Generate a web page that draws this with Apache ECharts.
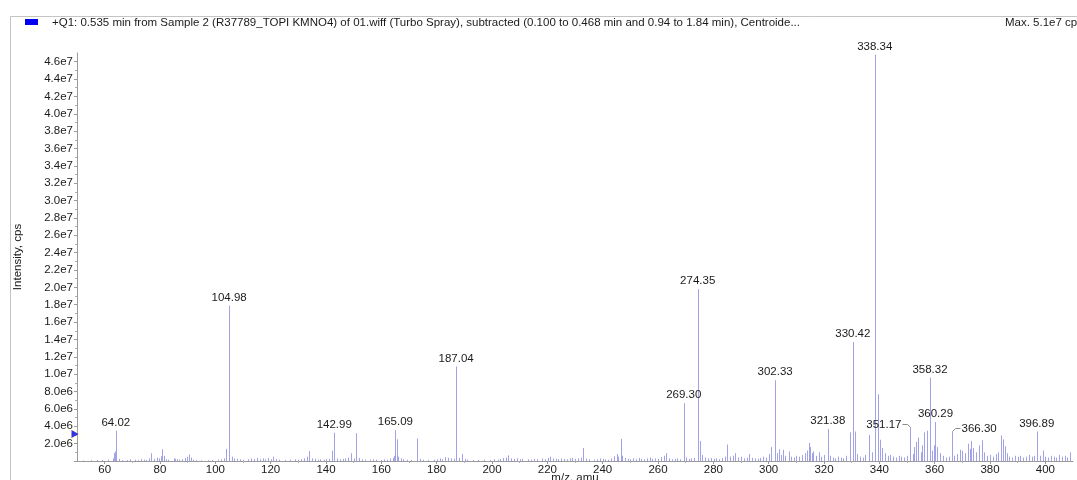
<!DOCTYPE html>
<html>
<head>
<meta charset="utf-8">
<script src="https://cdn.jsdelivr.net/npm/echarts@6/dist/echarts.min.js"></script>
<style>
  html, body { margin: 0; padding: 0; background: #ffffff; }
  #chart { width: 1077px; height: 480px; }
</style>
</head>
<body>
<div id="chart"></div>
<script>
// Header texts
const titleText = '+Q1: 0.535 min from Sample 2 (R37789_TOPI KMNO4) of 01.wiff (Turbo Spray), subtracted (0.100 to 0.468 min and 0.94 to 1.84 min), Centroide...';
const maxText = 'Max. 5.1e7 cps';
const xName = 'm/z, amu';
const yName = 'Intensity, cps';

// Axis ticks (x in amu, y in units of 1e6 cps)
const xTicks = [60, 80, 100, 120, 140, 160, 180, 200, 220, 240, 260, 280, 300, 320, 340, 360, 380, 400];
const xMinorTicks = [70, 90, 110, 130, 150, 170, 190, 210, 230, 250, 270, 290, 310, 330, 350, 370, 390];
const yTicks = [0, 2, 4, 6, 8, 10, 12, 14, 16, 18, 20, 22, 24, 26, 28, 30, 32, 34, 36, 38, 40, 42, 44, 46];
const yMinorTicks = [1, 3, 5, 7, 9, 11, 13, 15, 17, 19, 21, 23, 25, 27, 29, 31, 33, 35, 37, 39, 41, 43, 45];

// Centroided spectrum: [m/z, intensity in 1e6 cps]
const spectrum = [
  [52.1,0.06],[55.0,0.08],[57.1,0.10],[59.0,0.12],[61.1,0.15],[62.9,0.30],[63.4,0.90],[63.7,1.10],[64.02,3.50],
  [65.0,0.25],[66.1,0.10],[68.0,0.12],[69.1,0.18],[70.9,0.15],[72.2,0.10],[73.0,0.20],[74.1,0.15],[75.0,0.12],
  [76.1,0.30],[76.9,0.90],[77.8,0.25],[78.9,0.40],[79.6,0.30],[80.2,0.55],[80.9,1.35],[81.5,0.60],[82.1,0.20],
  [83.0,0.15],[84.9,0.30],[85.5,0.25],[86.1,0.20],[87.0,0.15],[88.1,0.20],[89.2,0.35],[89.9,0.50],[90.6,0.75],
  [91.1,0.40],[92.0,0.15],[93.1,0.10],[95.0,0.08],[97.2,0.10],[98.9,0.12],[100.9,0.15],[102.0,0.20],[103.1,0.30],
  [103.9,1.40],[104.98,17.9],[105.9,0.50],[106.8,0.30],[107.9,0.25],[109.0,0.20],[110.1,0.15],[111.9,0.20],
  [113.0,0.30],[114.0,0.25],[115.1,0.35],[116.0,0.20],[117.1,0.30],[118.0,0.20],[119.1,0.35],[120.2,0.20],
  [121.0,0.50],[122.0,0.25],[123.1,0.15],[125.0,0.10],[127.1,0.15],[128.9,0.20],[130.0,0.15],[131.1,0.20],
  [132.1,0.30],[133.0,0.50],[133.9,1.15],[135.0,0.30],[136.1,0.25],[137.0,0.15],[138.0,0.20],[139.1,0.15],
  [140.1,0.20],[141.0,0.25],[142.3,1.20],[142.99,3.25],[144.0,0.30],[145.0,0.20],[146.1,0.25],[147.0,0.30],
  [148.1,0.40],[149.0,0.90],[150.1,0.30],[151.0,3.20],[152.0,0.35],[153.0,0.20],[154.1,0.15],[155.9,0.15],
  [157.0,0.20],[158.1,0.15],[160.0,0.12],[161.1,0.20],[162.1,0.15],[163.0,0.30],[164.1,0.35],[164.6,0.60],
  [165.09,3.55],[165.6,2.50],[166.2,0.50],[167.1,0.30],[168.0,0.20],[169.1,0.15],[170.9,0.12],[173.0,2.60],
  [173.9,0.25],[175.1,0.15],[177.0,0.10],[178.9,0.15],[180.1,0.20],[181.1,0.30],[182.0,0.20],[183.1,0.45],
  [184.0,0.35],[185.1,0.30],[186.1,0.25],[187.04,10.9],[188.0,0.35],[189.0,0.80],[190.1,0.25],[191.0,0.15],
  [193.0,0.10],[195.1,0.12],[197.0,0.15],[199.1,0.10],[200.9,0.20],[202.0,0.15],[203.0,0.25],[204.1,0.35],
  [205.0,0.40],[205.9,0.65],[207.0,0.30],[208.1,0.25],[209.0,0.30],[210.1,0.20],[211.0,0.25],[212.9,0.20],
  [214.1,0.15],[215.0,0.25],[216.1,0.20],[217.9,0.30],[219.0,0.20],[220.1,0.35],[221.0,0.50],[222.0,0.30],
  [223.1,0.25],[224.0,0.20],[225.1,0.30],[226.0,0.25],[227.0,0.20],[228.1,0.30],[229.0,0.35],[230.1,0.25],
  [231.0,0.30],[232.1,0.40],[233.0,1.50],[234.0,0.30],[235.1,0.20],[236.9,0.15],[238.0,0.20],[239.1,0.30],
  [240.1,0.25],[241.0,0.20],[242.0,0.15],[243.1,0.30],[244.0,0.55],[245.0,0.80],[245.6,0.50],[246.5,2.55],
  [247.1,0.60],[248.0,0.35],[249.1,0.25],[250.0,0.20],[251.0,0.30],[252.1,0.20],[253.0,0.35],[254.0,0.25],
  [255.1,0.20],[256.0,0.30],[257.1,0.40],[258.0,0.25],[259.0,0.30],[260.1,0.25],[261.0,0.45],[262.0,0.60],
  [262.9,0.90],[264.0,0.30],[265.0,0.20],[266.1,0.25],[267.0,0.30],[268.0,0.20],[269.30,6.65],[270.2,0.40],
  [271.1,0.25],[272.0,0.30],[273.1,0.35],[274.35,19.8],[275.3,2.30],[276.0,0.70],[277.1,0.40],[278.0,0.30],
  [279.0,0.35],[280.1,0.25],[281.0,0.30],[282.1,0.20],[283.0,0.35],[284.1,0.50],[285.0,1.90],[286.0,0.50],
  [287.1,0.60],[288.0,0.90],[289.0,0.40],[290.1,0.50],[291.0,0.30],[292.1,0.40],[293.0,0.80],[294.0,0.35],
  [295.0,0.30],[296.1,0.25],[297.0,0.35],[298.0,0.50],[299.0,0.40],[300.1,0.80],[301.0,1.60],[302.33,9.30],
  [303.0,0.90],[303.6,1.35],[304.3,0.70],[305.0,1.30],[306.0,0.60],[307.5,1.10],[308.1,0.50],[309.0,0.40],
  [310.0,0.60],[311.1,0.50],[312.0,0.70],[313.0,0.90],[313.8,1.20],[314.5,2.10],[315.0,1.60],[315.6,0.90],
  [316.2,1.10],[317.0,0.60],[318.1,1.00],[319.0,0.50],[320.1,0.70],[321.38,3.70],[322.0,0.60],[323.1,0.40],
  [324.0,0.30],[325.0,0.50],[326.1,0.40],[327.0,0.30],[328.0,0.60],[329.3,3.30],[330.42,13.7],[331.3,3.40],
  [332.0,0.80],[333.1,0.50],[334.0,0.40],[335.0,0.70],[336.3,3.00],[337.2,1.00],[338.34,46.8],[339.4,7.70],
  [340.2,2.45],[341.0,1.50],[342.0,0.90],[343.1,0.60],[344.0,0.70],[345.0,0.50],[346.1,0.40],[347.0,0.60],
  [348.0,0.50],[349.0,0.40],[350.1,0.60],[351.17,3.90],[352.0,0.80],[352.6,1.60],[353.2,2.20],[354.0,2.70],
  [355.0,1.00],[355.6,1.80],[356.2,3.30],[357.1,3.50],[358.32,9.60],[359.0,1.20],[359.6,1.80],[360.29,4.50],
  [361.0,1.60],[361.9,0.90],[363.0,0.60],[364.0,0.40],[365.1,0.50],[366.30,3.40],[367.0,0.60],[368.0,0.80],
  [369.0,1.30],[370.0,1.20],[371.1,0.90],[372.0,2.00],[372.6,1.40],[373.3,2.30],[374.0,1.50],[375.0,1.00],
  [376.0,1.80],[377.1,2.40],[378.0,1.00],[379.0,0.60],[380.1,0.70],[381.0,0.50],[382.0,0.80],[383.0,1.00],
  [384.0,2.95],[384.6,2.50],[385.3,1.70],[386.0,0.90],[387.0,0.50],[388.1,0.40],[389.0,0.60],[390.0,0.50],
  [391.0,0.60],[392.1,0.40],[393.0,0.50],[394.0,0.70],[395.0,0.50],[396.0,0.60],[396.89,3.40],[398.0,0.60],
  [399.0,1.20],[400.0,0.50],[401.0,0.40],[402.0,0.60],[403.0,0.50],[404.0,0.40],[405.0,0.70],[406.0,0.50],
  [407.0,0.60],[408.0,0.40],[409.0,1.00]
];

// Peaks annotated with their m/z
const labeledMz = [64.02, 104.98, 142.99, 165.09, 187.04, 269.30, 274.35, 302.33, 321.38,
                   330.42, 338.34, 351.17, 358.32, 360.29, 366.30, 396.89];

// Threshold marker level on the intensity axis (1e6 cps)
const thresholdLevel = 3.1;

// Labels drawn beside their peak with a leader line
const leaderSide = { '351.17': 'left', '366.30': 'right' };

const FONT = '"Liberation Sans", Arial, sans-serif';
const FS = 11.5;
const peakColor = '#a2a2e8';
const textColor = '#1a1a1a';

const labelData = labeledMz.map(m => {
  const hit = spectrum.find(p => Math.abs(p[0] - m) < 1e-6);
  return [m, hit ? hit[1] : 0];
});

function fmtIntensity(v) {
  const cps = v * 1e6;
  if (cps === 0) return '';
  const e = Math.floor(Math.log10(cps) + 1e-9);
  return (cps / Math.pow(10, e)).toFixed(1) + 'e' + e;
}

const chart = echarts.init(document.getElementById('chart'), null, { renderer: 'canvas' });

const option = {
  animation: false,
  backgroundColor: '#ffffff',
  textStyle: { fontFamily: FONT },
  grid: { left: 77, right: 4, top: 53, bottom: 19, containLabel: false, outerBoundsMode: 'none' },
  xAxis: [{
    type: 'value', min: 50, max: 410,
    name: xName, nameLocation: 'middle', nameGap: 11, nameMoveOverlap: false,
    nameTextStyle: { fontSize: FS, color: textColor, fontFamily: FONT },
    axisLine: { show: true, lineStyle: { color: '#9a9a9a', width: 1 } },
    axisTick: { show: true, length: 3, lineStyle: { color: '#9a9a9a' }, customValues: xTicks },
    axisLabel: { fontSize: FS, color: textColor, margin: 3, fontFamily: FONT, customValues: xTicks },
    splitLine: { show: false }
  }, {
    type: 'value', min: 50, max: 410, position: 'bottom',
    axisLine: { show: false },
    axisTick: { show: true, length: 2, lineStyle: { color: '#b0b0b0' }, customValues: xMinorTicks },
    axisLabel: { show: false, customValues: xMinorTicks },
    splitLine: { show: false }
  }],
  yAxis: [{
    type: 'value', min: 0, max: 47,
    name: yName, nameLocation: 'middle', nameGap: 53, nameRotate: 90, nameMoveOverlap: false,
    nameTextStyle: { fontSize: FS, color: textColor, fontFamily: FONT },
    axisLine: { show: true, lineStyle: { color: '#9a9a9a', width: 1 } },
    axisTick: { show: true, length: 3, lineStyle: { color: '#9a9a9a' }, customValues: yTicks },
    axisLabel: { fontSize: FS, color: textColor, margin: 4, fontFamily: FONT, customValues: yTicks,
                 formatter: fmtIntensity },
    splitLine: { show: false }
  }, {
    type: 'value', min: 0, max: 47, position: 'left',
    axisLine: { show: false },
    axisTick: { show: true, length: 2, lineStyle: { color: '#b0b0b0' }, customValues: yMinorTicks },
    axisLabel: { show: false, customValues: yMinorTicks },
    splitLine: { show: false }
  }],
  graphic: [
    { type: 'polyline', silent: true, z: 100,
      shape: { points: [[10.5, 480], [10.5, 16.5], [1077, 16.5]] },
      style: { stroke: '#c4c4c4', lineWidth: 1, fill: null } },
    { type: 'rect', silent: true, z: 100,
      shape: { x: 25, y: 19, width: 13, height: 6 },
      style: { fill: '#0000ee' } },
    { type: 'text', silent: true, z: 100, x: 52, y: 23,
      style: { text: titleText, font: FS + 'px ' + FONT, fill: textColor, textVerticalAlign: 'middle' } },
    { type: 'text', silent: true, z: 100, x: 1005, y: 23,
      style: { text: maxText, font: FS + 'px ' + FONT, fill: textColor, textVerticalAlign: 'middle' } }
  ],
  series: [
    {
      type: 'custom',
      name: 'spectrum',
      coordinateSystem: 'cartesian2d',
      xAxisIndex: 0, yAxisIndex: 0,
      clip: true,
      data: spectrum,
      encode: { x: 0, y: 1 },
      renderItem: function (params, api) {
        const base = api.coord([api.value(0), 0]);
        const top = api.coord([api.value(0), api.value(1)]);
        const x = Math.round(base[0]) + 0.5;
        return {
          type: 'line',
          shape: { x1: x, y1: base[1], x2: x, y2: top[1] },
          style: { stroke: peakColor, lineWidth: 1 }
        };
      }
    },
    {
      type: 'custom',
      name: 'labels',
      coordinateSystem: 'cartesian2d',
      xAxisIndex: 0, yAxisIndex: 0,
      clip: false,
      data: labelData,
      encode: { x: 0, y: 1 },
      renderItem: function (params, api) {
        const m = api.value(0);
        const top = api.coord([m, api.value(1)]);
        const txt = m.toFixed(2);
        const px = Math.round(top[0]) + 0.5;
        const side = leaderSide[txt];
        const font = FS + 'px ' + FONT;
        if (side === 'left') {
          const midY = Math.round(top[1] - 3) + 0.5;
          return {
            type: 'group',
            children: [
              { type: 'polyline', shape: { points: [[px - 8, midY], [px - 3, midY], [px, top[1]]] },
                style: { stroke: '#8a8a8a', lineWidth: 1, fill: null } },
              { type: 'text', x: px - 9, y: midY,
                style: { text: txt, font: font, fill: textColor, textAlign: 'right', textVerticalAlign: 'middle' } }
            ]
          };
        }
        if (side === 'right') {
          const midY = Math.round(top[1] - 3) + 0.5;
          return {
            type: 'group',
            children: [
              { type: 'polyline', shape: { points: [[px, top[1]], [px + 3, midY], [px + 8, midY]] },
                style: { stroke: '#8a8a8a', lineWidth: 1, fill: null } },
              { type: 'text', x: px + 9, y: midY,
                style: { text: txt, font: font, fill: textColor, textAlign: 'left', textVerticalAlign: 'middle' } }
            ]
          };
        }
        return {
          type: 'text', x: top[0], y: top[1] - 2,
          style: { text: txt, font: font, fill: textColor, textAlign: 'center', textVerticalAlign: 'bottom' }
        };
      }
    },
    {
      type: 'scatter',
      name: 'threshold',
      xAxisIndex: 0, yAxisIndex: 0,
      data: [[50, thresholdLevel]],
      symbol: 'triangle',
      symbolRotate: -90,
      symbolSize: [8, 7],
      symbolOffset: [-2, 0],
      itemStyle: { color: '#0000dd', shadowColor: 'rgba(255,250,150,0.9)', shadowBlur: 6 },
      z: 5,
      silent: true
    }
  ]
};

chart.setOption(option);
</script>
</body>
</html>
